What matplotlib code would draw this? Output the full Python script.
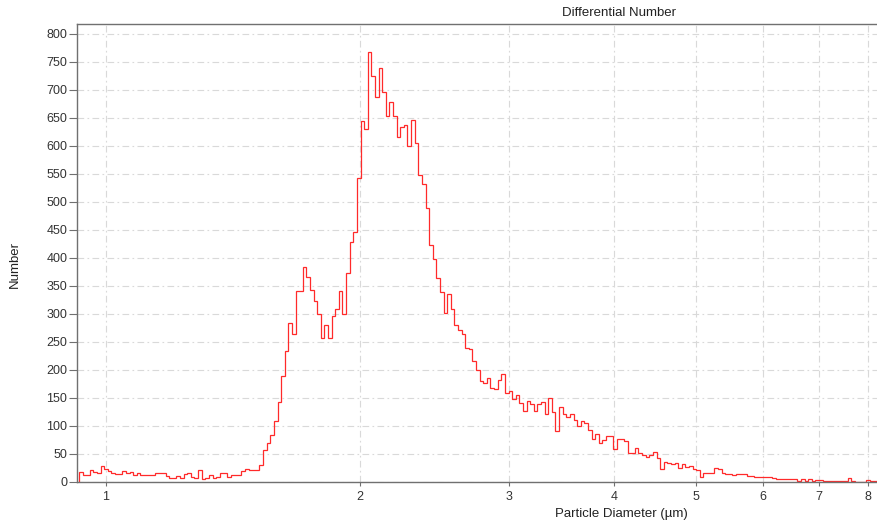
import numpy as np
import matplotlib
matplotlib.use("Agg")
from matplotlib import pyplot as plt
from matplotlib.ticker import FixedLocator, NullLocator, FixedFormatter

plt.rcParams['font.family'] = ['Liberation Sans', 'DejaVu Sans']

# diameter range of the bins (um), log spaced
d_min = 0.929
d_max = 8.19

# counts per bin (left to right)
low_counts = [17, 12, 12, 21, 17, 16, 28, 23, 19, 16,
              13, 13, 19, 16, 17, 12, 16, 12, 12, 12,
              12, 16, 16, 15, 10, 7, 6, 10, 7, 13,
              16, 8, 7, 20, 4, 6, 12, 6, 9, 15,
              16, 9, 12, 12, 12, 19, 22, 20, 20, 20,
              30, 56, 69, 83, 108, 142, 188, 233, 283, 264,
              340, 340]
peak_counts = [384, 366, 343, 322, 299, 256, 280, 256, 295, 309,
               340, 299, 372, 428, 445, 543, 644, 630, 767, 724,
               687, 739, 696, 652, 677, 653, 615, 634, 637, 599,
               646, 604, 548, 532, 489, 422, 398, 364, 339, 301,
               335, 308, 279, 270, 263, 238, 236, 216, 199, 179,
               177, 185, 168, 165, 182, 192, 158, 162, 148, 155,
               140, 127, 144, 139, 127, 138, 142, 120, 150, 124,
               90, 133, 121, 115, 120, 111, 99, 108, 105, 93,
               76, 86, 69, 74, 82, 81, 59, 77, 77, 73,
               51, 51, 61, 51, 47, 44, 47, 53, 43, 22,
               36, 33, 31, 34, 25, 31, 27, 28, 22, 21]
tail_counts = [9, 15, 15, 15, 25, 22, 15, 13, 13, 12,
               14, 13, 13, 10, 10, 9, 9, 8, 8, 8,
               7, 5, 4, 4, 4, 4, 4, 2, 5, 2,
               4, 2, 3, 3, 2, 2, 2, 2, 2, 2,
               2, 7, 1, 0, 0, 0, 3, 2, 2]

counts = np.array(low_counts + peak_counts + tail_counts, dtype=float)
edges = np.geomspace(d_min, d_max, len(counts) + 1)

x_ticks = [1, 2, 3, 4, 5, 6, 7, 8]
y_ticks = list(range(0, 801, 50))

fig = plt.figure(figsize=(8.77, 5.25), dpi=100)
ax = fig.add_axes([77/877, 1 - 481.7/525, 1 - 77/877, (481.7 - 24)/525])

ax.stairs(counts, edges, baseline=0, color='#ff2a2a', lw=0.9)

ax.set_xscale('log')
ax.set_xlim(0.924, 8.196)
ax.set_ylim(0, 817)

ax.xaxis.set_major_locator(FixedLocator(x_ticks))
ax.xaxis.set_major_formatter(FixedFormatter([str(t) for t in x_ticks]))
ax.xaxis.set_minor_locator(NullLocator())
ax.yaxis.set_major_locator(FixedLocator(y_ticks))
ax.yaxis.set_minor_locator(NullLocator())

ax.grid(True, which='major', color='#d9d9d9', lw=0.8, linestyle=(0, (6, 3, 1.5, 3)))
ax.set_axisbelow(True)

for side in ['left', 'bottom', 'top']:
    ax.spines[side].set_color('#707070')
    ax.spines[side].set_linewidth(1.0)
ax.spines['right'].set_visible(False)

ax.tick_params(axis='y', length=5.5, width=0.8, color='#707070', pad=1.5,
               labelsize=9, labelcolor='#333333')
ax.tick_params(axis='x', length=3, width=0.8, color='#707070', pad=4,
               labelsize=9, labelcolor='#333333')

fig.text(619/877, 1 - 13/525, 'Differential Number', ha='center', va='center',
         fontsize=9.5, color='#222222')
fig.text(621/877, 1 - 514/525, 'Particle Diameter (µm)', ha='center', va='center',
         fontsize=9.5, color='#222222')
fig.text(15/877, 1 - 264/525, 'Number', ha='center', va='center', rotation=90,
         fontsize=9.5, color='#222222')

fig.savefig('out.png', dpi=100)
